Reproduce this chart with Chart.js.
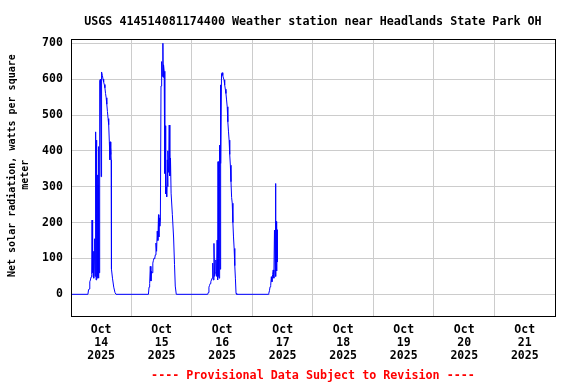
<!DOCTYPE html>
<html>
<head>
<meta charset="utf-8">
<script src="https://cdn.jsdelivr.net/npm/chart.js@4"></script>
<style>
  html, body { margin: 0; padding: 0; background: #ffffff; }
</style>
</head>
<body>
<canvas id="solarChart" width="576" height="384"></canvas>
<script>
// Net solar radiation, W/m2 - hours counted from midnight of each day

const chartTitle = 'USGS 414514081174400 Weather station near Headlands State Park OH';
// leading spaces nudge the rotated lines up a little, like the original
const yAxisTitle = ['    Net solar radiation, watts per square', ' meter'];
const footerText = '---- Provisional Data Subject to Revision ----';

const dayOffsets = [0, 24, 48, 72];

const oct14Hours = [0, 6.75, 7.0, 7.25, 7.5, 7.75, 8.0, 8.25, 8.4, 8.55, 8.7, 8.85, 9.0, 9.15, 9.3, 9.45, 9.6, 9.75, 9.9, 10.0, 10.1, 10.2, 10.35, 10.45, 10.6, 10.7, 10.85, 10.95, 11.1, 11.2, 11.35, 11.5, 11.75, 12.0, 12.1, 12.25, 12.5, 12.75, 13.0, 13.25, 13.5, 13.75, 14.0, 14.25, 14.5, 14.75, 15.0, 15.25, 15.5, 15.6, 15.75, 15.9, 16.0, 16.1, 16.5, 17.0, 17.5, 17.9];
const oct14Values = [0, 0, 12, 15, 35, 40, 48, 55, 207, 60, 95, 50, 120, 45, 100, 155, 50, 80, 453, 40, 430, 60, 226, 45, 333, 50, 305, 45, 412, 60, 200, 597, 600, 328, 600, 620, 610, 600, 592, 585, 576, 560, 548, 530, 510, 490, 473, 426, 375, 425, 390, 410, 375, 70, 45, 20, 5, 0];

const oct15Hours = [6.75, 7.0, 7.25, 7.5, 7.75, 8.0, 8.25, 8.5, 8.75, 9.0, 9.25, 9.5, 9.75, 10.0, 10.25, 10.5, 10.75, 10.9, 11.0, 11.25, 11.5, 11.75, 12.0, 12.25, 12.5, 12.6, 12.75, 13.0, 13.25, 13.4, 13.6, 13.75, 14.0, 14.25, 14.4, 14.5, 14.75, 15.0, 15.25, 15.5, 15.75, 16.25, 16.75, 17.1, 17.4, 17.8];
const oct15Values = [0, 20, 30, 78, 37, 64, 60, 87, 95, 101, 100, 110, 143, 120, 176, 150, 222, 160, 213, 190, 207, 581, 649, 608, 700, 605, 640, 622, 337, 470, 280, 300, 272, 375, 300, 400, 340, 472, 330, 380, 282, 222, 157, 83, 23, 0];

const oct16Hours = [6.25, 6.5, 6.75, 7.0, 7.25, 7.5, 7.75, 8.0, 8.25, 8.5, 8.75, 9.0, 9.25, 9.5, 9.75, 10.0, 10.2, 10.35, 10.5, 10.6, 10.75, 10.9, 11.0, 11.1, 11.2, 11.3, 11.4, 11.5, 11.75, 12.0, 12.25, 12.5, 12.75, 13.0, 13.25, 13.5, 13.75, 14.0, 14.25, 14.5, 14.75, 15.0, 15.25, 15.5, 15.75, 16.0, 16.25, 16.5, 16.75, 17.0, 17.25, 17.5, 17.75];
const oct16Values = [0, 5, 20, 25, 30, 35, 40, 45, 87, 40, 142, 50, 60, 96, 50, 151, 40, 370, 50, 310, 45, 416, 60, 337, 70, 467, 584, 365, 616, 618, 610, 603, 598, 584, 572, 560, 542, 523, 481, 455, 430, 390, 360, 314, 270, 254, 200, 160, 128, 80, 45, 3, 0];

const oct17Hours = [6.25, 6.5, 6.75, 7.0, 7.25, 7.5, 7.75, 8.0, 8.25, 8.5, 8.75, 9.0, 9.15, 9.3, 9.45, 9.6, 9.75, 9.85];
const oct17Values = [0, 3, 10, 21, 25, 49, 35, 55, 68, 45, 179, 60, 309, 50, 203, 65, 180, 90];

const xDayLabels = [
  ['Oct', '14', '2025'], ['Oct', '15', '2025'], ['Oct', '16', '2025'], ['Oct', '17', '2025'],
  ['Oct', '18', '2025'], ['Oct', '19', '2025'], ['Oct', '20', '2025'], ['Oct', '21', '2025']
];
const yTickValues = [0, 100, 200, 300, 400, 500, 600, 700];

// join the days into one series of {x, y}
function buildPoints() {
  const days = [
    [oct14Hours, oct14Values],
    [oct15Hours, oct15Values],
    [oct16Hours, oct16Values],
    [oct17Hours, oct17Values]
  ];
  const points = [];
  days.forEach(function(day, i) {
    day[0].forEach(function(h, j) {
      points.push({ x: dayOffsets[i] + h, y: day[1][j] });
    });
  });
  return points;
}

const monoFont = "'DejaVu Sans Mono', 'Liberation Mono', monospace";

// black frame around the plot area
const plotFrame = {
  id: 'plotFrame',
  afterDatasetsDraw(chart) {
    const a = chart.chartArea;
    const ctx = chart.ctx;
    ctx.save();
    ctx.strokeStyle = '#000000';
    ctx.lineWidth = 1;
    ctx.strokeRect(Math.round(a.left) + 0.5, Math.round(a.top) + 0.5,
      Math.round(a.right - a.left), Math.round(a.bottom - a.top));
    ctx.restore();
  }
};

const ctx = document.getElementById('solarChart').getContext('2d');

new Chart(ctx, {
  type: 'line',
  data: {
    datasets: [{
      data: buildPoints(),
      borderColor: '#0000ff',
      borderWidth: 1,
      pointRadius: 0,
      fill: false,
      tension: 0
    }]
  },
  plugins: [plotFrame],
  options: {
    responsive: false,
    animation: false,
    layout: { padding: { left: 0, right: 21, top: 0, bottom: 0 } },
    plugins: {
      legend: { display: false },
      tooltip: { enabled: false },
      title: {
        display: true,
        text: chartTitle,
        color: '#000000',
        fullSize: false,
        font: { family: monoFont, size: 11.7, weight: 'bold', lineHeight: 1.2 },
        padding: { top: 15, bottom: 10.3 }
      },
      subtitle: {
        display: true,
        position: 'bottom',
        text: footerText,
        color: '#ff0000',
        fullSize: false,
        font: { family: monoFont, size: 11.7, weight: 'bold', lineHeight: 1.0 },
        padding: { top: 0, bottom: 2.3 }
      }
    },
    scales: {
      x: {
        type: 'linear',
        min: 0,
        max: 192,
        afterBuildTicks: function(axis) {
          const ticks = [];
          for (let h = 0; h <= 192; h += 12) ticks.push({ value: h });
          axis.ticks = ticks;
        },
        border: { display: false },
        grid: {
          drawTicks: false,
          lineWidth: 1,
          color: function(c) {
            const v = c.tick ? c.tick.value : 0;
            return (v % 24 === 0 && v > 0 && v < 192) ? '#cccccc' : 'rgba(0,0,0,0)';
          }
        },
        ticks: {
          autoSkip: false,
          maxRotation: 0,
          minRotation: 0,
          padding: 7.5,
          color: '#000000',
          font: { family: monoFont, size: 11.5, weight: 'bold', lineHeight: 1.13 },
          callback: function(value) {
            if (value % 24 === 12) return xDayLabels[(value - 12) / 24];
            return '';
          }
        }
      },
      y: {
        min: -60.5,
        max: 711,
        afterBuildTicks: function(axis) {
          axis.ticks = yTickValues.map(function(v) { return { value: v }; });
        },
        border: { display: false },
        grid: { drawTicks: false, color: '#cccccc', lineWidth: 1 },
        ticks: {
          padding: 8,
          color: '#000000',
          font: { family: monoFont, size: 11.5, weight: 'bold' }
        },
        title: {
          display: true,
          text: yAxisTitle,
          color: '#000000',
          font: { family: monoFont, size: 10, weight: 'bold', lineHeight: 1.23 },
          padding: { top: 6.5, bottom: 3 }
        }
      }
    }
  }
});
</script>
</body>
</html>
